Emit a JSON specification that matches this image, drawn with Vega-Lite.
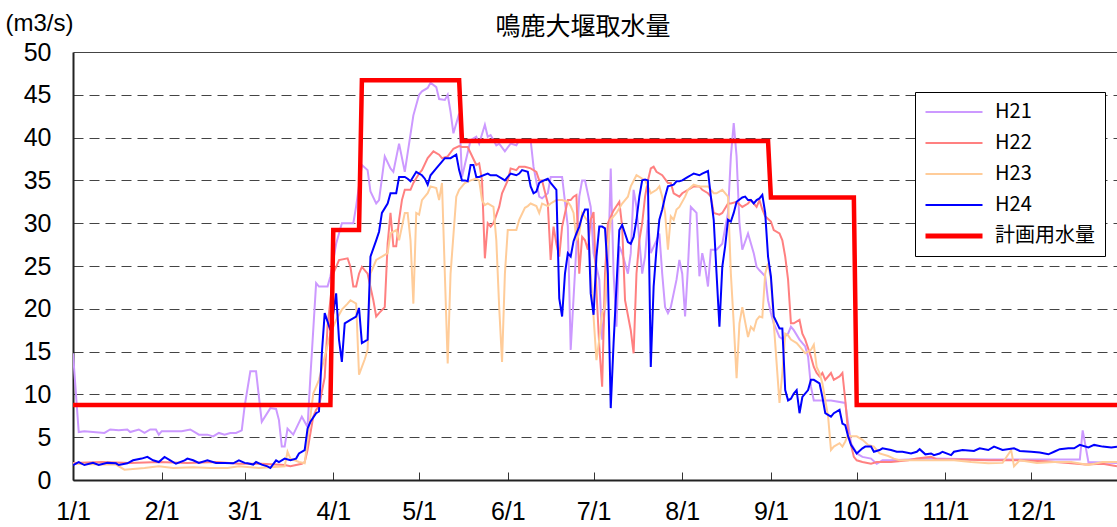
{
 "$schema": "https://vega.github.io/schema/vega-lite/v6.json",
 "width": 1044, "height": 428,
 "autosize": "none",
 "padding": {"left": 73, "top": 52, "right": 0, "bottom": 47},
 "background": "white",
 "title": {"text": "鳴鹿大堰取水量", "font": "Noto Sans CJK JP", "fontSize": 25, "fontWeight": "normal", "color": "black", "anchor": "middle", "offset": -29, "dx": -12},
 "config": {"view": {"stroke": null}},
 "data": {"values": [
{"series":"H21","day":0,"value":14.8},{"series":"H21","day":2,"value":5.6},{"series":"H21","day":4,"value":5.7},{"series":"H21","day":11,"value":5.5},{"series":"H21","day":13,"value":5.9},{"series":"H21","day":16,"value":5.8},{"series":"H21","day":19,"value":5.9},{"series":"H21","day":20,"value":5.6},{"series":"H21","day":23,"value":5.9},{"series":"H21","day":25,"value":5.5},{"series":"H21","day":27,"value":5.9},{"series":"H21","day":29,"value":5.9},{"series":"H21","day":30,"value":5.3},{"series":"H21","day":31,"value":5.7},{"series":"H21","day":38,"value":5.7},{"series":"H21","day":41,"value":5.9},{"series":"H21","day":43,"value":5.5},{"series":"H21","day":44,"value":5.3},{"series":"H21","day":47,"value":5.3},{"series":"H21","day":49,"value":5.1},{"series":"H21","day":51,"value":5.5},{"series":"H21","day":53,"value":5.3},{"series":"H21","day":55,"value":5.5},{"series":"H21","day":57,"value":5.5},{"series":"H21","day":59,"value":5.8},{"series":"H21","day":60,"value":8.6},{"series":"H21","day":62,"value":12.7},{"series":"H21","day":64,"value":12.7},{"series":"H21","day":66,"value":6.8},{"series":"H21","day":69,"value":8.4},{"series":"H21","day":71,"value":8.3},{"series":"H21","day":72,"value":7.0},{"series":"H21","day":73,"value":3.9},{"series":"H21","day":74,"value":3.9},{"series":"H21","day":75,"value":6.0},{"series":"H21","day":77,"value":5.3},{"series":"H21","day":80,"value":7.4},{"series":"H21","day":82,"value":6.2},{"series":"H21","day":83,"value":12.1},{"series":"H21","day":85,"value":23.0},{"series":"H21","day":86,"value":22.6},{"series":"H21","day":89,"value":22.6},{"series":"H21","day":90,"value":23.8},{"series":"H21","day":92,"value":27.6},{"series":"H21","day":94,"value":30.0},{"series":"H21","day":98,"value":30.0},{"series":"H21","day":99,"value":32.0},{"series":"H21","day":101,"value":36.8},{"series":"H21","day":103,"value":36.2},{"series":"H21","day":104,"value":33.7},{"series":"H21","day":106,"value":32.3},{"series":"H21","day":107,"value":32.7},{"series":"H21","day":109,"value":37.8},{"series":"H21","day":111,"value":36.4},{"series":"H21","day":112,"value":36.0},{"series":"H21","day":114,"value":39.3},{"series":"H21","day":116,"value":36.0},{"series":"H21","day":119,"value":42.6},{"series":"H21","day":121,"value":45.0},{"series":"H21","day":122,"value":45.4},{"series":"H21","day":124,"value":45.8},{"series":"H21","day":125,"value":46.4},{"series":"H21","day":127,"value":45.9},{"series":"H21","day":128,"value":44.5},{"series":"H21","day":130,"value":44.4},{"series":"H21","day":131,"value":45.0},{"series":"H21","day":132,"value":43.0},{"series":"H21","day":133,"value":40.5},{"series":"H21","day":135,"value":42.8},{"series":"H21","day":136,"value":35.4},{"series":"H21","day":139,"value":39.7},{"series":"H21","day":141,"value":40.1},{"series":"H21","day":142,"value":39.3},{"series":"H21","day":144,"value":41.5},{"series":"H21","day":145,"value":40.1},{"series":"H21","day":146,"value":40.3},{"series":"H21","day":148,"value":39.1},{"series":"H21","day":149,"value":39.3},{"series":"H21","day":151,"value":38.4},{"series":"H21","day":153,"value":39.3},{"series":"H21","day":155,"value":39.1},{"series":"H21","day":156,"value":39.7},{"series":"H21","day":160,"value":39.7},{"series":"H21","day":161,"value":36.6},{"series":"H21","day":163,"value":33.1},{"series":"H21","day":164,"value":32.9},{"series":"H21","day":166,"value":33.5},{"series":"H21","day":167,"value":35.4},{"series":"H21","day":169,"value":35.4},{"series":"H21","day":171,"value":35.4},{"series":"H21","day":173,"value":29.6},{"series":"H21","day":174,"value":15.2},{"series":"H21","day":176,"value":27.3},{"series":"H21","day":177,"value":33.1},{"series":"H21","day":178,"value":35.0},{"series":"H21","day":179,"value":35.0},{"series":"H21","day":181,"value":31.9},{"series":"H21","day":182,"value":26.5},{"series":"H21","day":184,"value":23.4},{"series":"H21","day":185,"value":16.4},{"series":"H21","day":187,"value":24.1},{"series":"H21","day":188,"value":36.4},{"series":"H21","day":189,"value":24.1},{"series":"H21","day":190,"value":17.9},{"series":"H21","day":191,"value":27.3},{"series":"H21","day":192,"value":26.5},{"series":"H21","day":194,"value":24.1},{"series":"H21","day":195,"value":26.5},{"series":"H21","day":196,"value":33.9},{"series":"H21","day":197,"value":31.9},{"series":"H21","day":199,"value":24.1},{"series":"H21","day":200,"value":26.1},{"series":"H21","day":201,"value":30.4},{"series":"H21","day":202,"value":26.5},{"series":"H21","day":204,"value":28.0},{"series":"H21","day":205,"value":28.8},{"series":"H21","day":206,"value":24.1},{"series":"H21","day":207,"value":20.2},{"series":"H21","day":208,"value":19.5},{"series":"H21","day":209,"value":20.2},{"series":"H21","day":211,"value":23.4},{"series":"H21","day":212,"value":25.7},{"series":"H21","day":213,"value":24.1},{"series":"H21","day":214,"value":19.1},{"series":"H21","day":215,"value":24.9},{"series":"H21","day":216,"value":31.9},{"series":"H21","day":218,"value":31.2},{"series":"H21","day":219,"value":23.8},{"series":"H21","day":220,"value":26.5},{"series":"H21","day":221,"value":24.9},{"series":"H21","day":222,"value":22.6},{"series":"H21","day":223,"value":26.9},{"series":"H21","day":225,"value":26.9},{"series":"H21","day":227,"value":27.6},{"series":"H21","day":229,"value":31.2},{"series":"H21","day":230,"value":37.8},{"series":"H21","day":231,"value":41.7},{"series":"H21","day":232,"value":37.8},{"series":"H21","day":233,"value":30.0},{"series":"H21","day":234,"value":26.9},{"series":"H21","day":236,"value":28.8},{"series":"H21","day":238,"value":26.5},{"series":"H21","day":239,"value":24.9},{"series":"H21","day":240,"value":24.5},{"series":"H21","day":242,"value":23.8},{"series":"H21","day":243,"value":21.0},{"series":"H21","day":244,"value":19.5},{"series":"H21","day":245,"value":18.3},{"series":"H21","day":247,"value":16.7},{"series":"H21","day":248,"value":16.5},{"series":"H21","day":250,"value":17.1},{"series":"H21","day":251,"value":17.9},{"series":"H21","day":252,"value":17.5},{"series":"H21","day":254,"value":16.4},{"series":"H21","day":256,"value":15.6},{"series":"H21","day":257,"value":14.4},{"series":"H21","day":258,"value":10.9},{"series":"H21","day":259,"value":9.3},{"series":"H21","day":265,"value":9.3},{"series":"H21","day":270,"value":9.0},{"series":"H21","day":271,"value":6.6},{"series":"H21","day":272,"value":4.3},{"series":"H21","day":274,"value":3.1},{"series":"H21","day":276,"value":2.7},{"series":"H21","day":279,"value":2.5},{"series":"H21","day":281,"value":1.9},{"series":"H21","day":283,"value":2.3},{"series":"H21","day":286,"value":2.3},{"series":"H21","day":300,"value":2.5},{"series":"H21","day":320,"value":2.4},{"series":"H21","day":340,"value":2.4},{"series":"H21","day":352,"value":2.4},{"series":"H21","day":353,"value":5.8},{"series":"H21","day":355,"value":2.1},{"series":"H21","day":365,"value":2.0},
{"series":"H22","day":0,"value":2.0},{"series":"H22","day":10,"value":2.1},{"series":"H22","day":20,"value":2.0},{"series":"H22","day":30,"value":2.1},{"series":"H22","day":40,"value":2.0},{"series":"H22","day":50,"value":2.1},{"series":"H22","day":58,"value":1.9},{"series":"H22","day":66,"value":1.9},{"series":"H22","day":74,"value":1.75},{"series":"H22","day":76,"value":1.6},{"series":"H22","day":80,"value":1.9},{"series":"H22","day":81,"value":2.1},{"series":"H22","day":82,"value":3.5},{"series":"H22","day":84,"value":7.4},{"series":"H22","day":85,"value":8.2},{"series":"H22","day":86,"value":8.6},{"series":"H22","day":88,"value":12.0},{"series":"H22","day":89,"value":18.0},{"series":"H22","day":91,"value":24.1},{"series":"H22","day":93,"value":25.7},{"series":"H22","day":96,"value":25.9},{"series":"H22","day":97,"value":24.9},{"series":"H22","day":98,"value":22.6},{"series":"H22","day":99,"value":22.6},{"series":"H22","day":100,"value":24.1},{"series":"H22","day":101,"value":24.9},{"series":"H22","day":103,"value":24.1},{"series":"H22","day":105,"value":21.0},{"series":"H22","day":106,"value":19.1},{"series":"H22","day":107,"value":19.5},{"series":"H22","day":109,"value":20.2},{"series":"H22","day":110,"value":27.6},{"series":"H22","day":111,"value":31.2},{"series":"H22","day":112,"value":27.3},{"series":"H22","day":113,"value":27.3},{"series":"H22","day":114,"value":30.4},{"series":"H22","day":115,"value":32.7},{"series":"H22","day":116,"value":33.9},{"series":"H22","day":118,"value":33.9},{"series":"H22","day":119,"value":34.7},{"series":"H22","day":121,"value":35.8},{"series":"H22","day":122,"value":36.2},{"series":"H22","day":124,"value":37.6},{"series":"H22","day":126,"value":38.4},{"series":"H22","day":128,"value":38.0},{"series":"H22","day":129,"value":37.6},{"series":"H22","day":131,"value":37.8},{"series":"H22","day":133,"value":38.7},{"series":"H22","day":135,"value":39.0},{"series":"H22","day":136,"value":38.9},{"series":"H22","day":138,"value":38.9},{"series":"H22","day":139,"value":38.2},{"series":"H22","day":141,"value":36.8},{"series":"H22","day":142,"value":37.0},{"series":"H22","day":143,"value":35.0},{"series":"H22","day":144,"value":25.9},{"series":"H22","day":145,"value":30.0},{"series":"H22","day":146,"value":29.6},{"series":"H22","day":147,"value":30.0},{"series":"H22","day":149,"value":31.9},{"series":"H22","day":150,"value":33.5},{"series":"H22","day":152,"value":35.0},{"series":"H22","day":153,"value":36.4},{"series":"H22","day":155,"value":36.2},{"series":"H22","day":156,"value":36.6},{"series":"H22","day":158,"value":36.6},{"series":"H22","day":160,"value":36.4},{"series":"H22","day":162,"value":36.0},{"series":"H22","day":163,"value":35.0},{"series":"H22","day":164,"value":35.0},{"series":"H22","day":166,"value":32.3},{"series":"H22","day":167,"value":25.7},{"series":"H22","day":168,"value":29.6},{"series":"H22","day":169,"value":27.6},{"series":"H22","day":170,"value":26.1},{"series":"H22","day":171,"value":29.6},{"series":"H22","day":173,"value":32.7},{"series":"H22","day":174,"value":32.7},{"series":"H22","day":175,"value":33.1},{"series":"H22","day":176,"value":33.3},{"series":"H22","day":177,"value":24.1},{"series":"H22","day":178,"value":28.4},{"series":"H22","day":179,"value":28.0},{"series":"H22","day":180,"value":26.9},{"series":"H22","day":181,"value":30.4},{"series":"H22","day":182,"value":31.3},{"series":"H22","day":183,"value":22.2},{"series":"H22","day":184,"value":15.6},{"series":"H22","day":185,"value":10.9},{"series":"H22","day":186,"value":24.1},{"series":"H22","day":187,"value":30.0},{"series":"H22","day":189,"value":31.5},{"series":"H22","day":191,"value":32.5},{"series":"H22","day":192,"value":29.6},{"series":"H22","day":193,"value":21.0},{"series":"H22","day":195,"value":17.5},{"series":"H22","day":196,"value":14.8},{"series":"H22","day":197,"value":24.1},{"series":"H22","day":198,"value":28.0},{"series":"H22","day":199,"value":30.0},{"series":"H22","day":200,"value":33.1},{"series":"H22","day":201,"value":35.0},{"series":"H22","day":202,"value":36.4},{"series":"H22","day":203,"value":36.6},{"series":"H22","day":204,"value":36.0},{"series":"H22","day":206,"value":35.6},{"series":"H22","day":208,"value":34.7},{"series":"H22","day":209,"value":34.7},{"series":"H22","day":210,"value":33.5},{"series":"H22","day":212,"value":33.1},{"series":"H22","day":213,"value":33.5},{"series":"H22","day":215,"value":33.9},{"series":"H22","day":217,"value":34.3},{"series":"H22","day":219,"value":34.3},{"series":"H22","day":220,"value":33.9},{"series":"H22","day":222,"value":33.5},{"series":"H22","day":223,"value":33.1},{"series":"H22","day":224,"value":31.2},{"series":"H22","day":226,"value":31.0},{"series":"H22","day":227,"value":31.2},{"series":"H22","day":229,"value":32.3},{"series":"H22","day":230,"value":32.3},{"series":"H22","day":232,"value":32.5},{"series":"H22","day":234,"value":31.9},{"series":"H22","day":236,"value":32.3},{"series":"H22","day":237,"value":32.7},{"series":"H22","day":239,"value":31.9},{"series":"H22","day":240,"value":32.7},{"series":"H22","day":241,"value":31.6},{"series":"H22","day":242,"value":30.8},{"series":"H22","day":244,"value":30.2},{"series":"H22","day":245,"value":29.2},{"series":"H22","day":247,"value":28.8},{"series":"H22","day":248,"value":28.0},{"series":"H22","day":249,"value":26.1},{"series":"H22","day":250,"value":23.4},{"series":"H22","day":251,"value":18.3},{"series":"H22","day":252,"value":18.3},{"series":"H22","day":254,"value":18.7},{"series":"H22","day":255,"value":17.1},{"series":"H22","day":256,"value":16.4},{"series":"H22","day":258,"value":14.4},{"series":"H22","day":259,"value":13.2},{"series":"H22","day":260,"value":12.5},{"series":"H22","day":261,"value":12.1},{"series":"H22","day":262,"value":12.5},{"series":"H22","day":263,"value":11.7},{"series":"H22","day":265,"value":12.5},{"series":"H22","day":266,"value":11.7},{"series":"H22","day":268,"value":12.1},{"series":"H22","day":269,"value":12.5},{"series":"H22","day":270,"value":9.3},{"series":"H22","day":271,"value":5.5},{"series":"H22","day":273,"value":2.7},{"series":"H22","day":274,"value":2.3},{"series":"H22","day":276,"value":2.1},{"series":"H22","day":279,"value":1.9},{"series":"H22","day":281,"value":2.1},{"series":"H22","day":286,"value":2.1},{"series":"H22","day":292,"value":2.3},{"series":"H22","day":295,"value":2.5},{"series":"H22","day":300,"value":2.7},{"series":"H22","day":302,"value":2.4},{"series":"H22","day":310,"value":2.4},{"series":"H22","day":320,"value":2.3},{"series":"H22","day":330,"value":2.3},{"series":"H22","day":340,"value":2.2},{"series":"H22","day":348,"value":2.0},{"series":"H22","day":354,"value":1.8},{"series":"H22","day":360,"value":1.9},{"series":"H22","day":365,"value":1.6},
{"series":"H23","day":0,"value":1.9},{"series":"H23","day":10,"value":1.8},{"series":"H23","day":15,"value":1.8},{"series":"H23","day":18,"value":1.2},{"series":"H23","day":25,"value":1.4},{"series":"H23","day":30,"value":1.6},{"series":"H23","day":35,"value":1.4},{"series":"H23","day":42,"value":1.5},{"series":"H23","day":48,"value":1.4},{"series":"H23","day":54,"value":1.4},{"series":"H23","day":58,"value":1.6},{"series":"H23","day":65,"value":1.4},{"series":"H23","day":74,"value":1.6},{"series":"H23","day":75,"value":3.3},{"series":"H23","day":76,"value":2.5},{"series":"H23","day":79,"value":2.1},{"series":"H23","day":81,"value":1.95},{"series":"H23","day":82,"value":4.7},{"series":"H23","day":84,"value":10.1},{"series":"H23","day":86,"value":11.7},{"series":"H23","day":88,"value":14.4},{"series":"H23","day":90,"value":17.1},{"series":"H23","day":92,"value":18.7},{"series":"H23","day":94,"value":19.9},{"series":"H23","day":96,"value":20.6},{"series":"H23","day":97,"value":21.0},{"series":"H23","day":99,"value":20.6},{"series":"H23","day":100,"value":12.3},{"series":"H23","day":102,"value":14.1},{"series":"H23","day":103,"value":15.2},{"series":"H23","day":104,"value":24.1},{"series":"H23","day":106,"value":25.7},{"series":"H23","day":108,"value":26.1},{"series":"H23","day":110,"value":26.5},{"series":"H23","day":111,"value":28.8},{"series":"H23","day":113,"value":29.2},{"series":"H23","day":114,"value":28.0},{"series":"H23","day":116,"value":31.2},{"series":"H23","day":117,"value":31.2},{"series":"H23","day":118,"value":28.0},{"series":"H23","day":119,"value":20.6},{"series":"H23","day":120,"value":31.2},{"series":"H23","day":121,"value":31.0},{"series":"H23","day":122,"value":32.7},{"series":"H23","day":124,"value":33.5},{"series":"H23","day":125,"value":34.3},{"series":"H23","day":127,"value":34.1},{"series":"H23","day":128,"value":32.7},{"series":"H23","day":129,"value":34.7},{"series":"H23","day":130,"value":24.1},{"series":"H23","day":131,"value":13.6},{"series":"H23","day":132,"value":24.1},{"series":"H23","day":134,"value":33.1},{"series":"H23","day":135,"value":33.9},{"series":"H23","day":137,"value":34.7},{"series":"H23","day":139,"value":35.0},{"series":"H23","day":141,"value":35.2},{"series":"H23","day":142,"value":35.0},{"series":"H23","day":143,"value":32.7},{"series":"H23","day":144,"value":32.1},{"series":"H23","day":145,"value":32.3},{"series":"H23","day":147,"value":31.9},{"series":"H23","day":148,"value":28.0},{"series":"H23","day":149,"value":20.2},{"series":"H23","day":150,"value":13.8},{"series":"H23","day":151,"value":24.1},{"series":"H23","day":152,"value":29.2},{"series":"H23","day":155,"value":29.2},{"series":"H23","day":156,"value":30.4},{"series":"H23","day":158,"value":31.8},{"series":"H23","day":159,"value":32.0},{"series":"H23","day":160,"value":32.3},{"series":"H23","day":162,"value":32.0},{"series":"H23","day":163,"value":31.2},{"series":"H23","day":164,"value":32.3},{"series":"H23","day":166,"value":32.0},{"series":"H23","day":167,"value":32.3},{"series":"H23","day":169,"value":32.7},{"series":"H23","day":171,"value":32.7},{"series":"H23","day":173,"value":32.5},{"series":"H23","day":174,"value":32.0},{"series":"H23","day":175,"value":31.2},{"series":"H23","day":176,"value":28.0},{"series":"H23","day":177,"value":28.8},{"series":"H23","day":178,"value":31.2},{"series":"H23","day":180,"value":30.2},{"series":"H23","day":181,"value":24.1},{"series":"H23","day":183,"value":14.0},{"series":"H23","day":184,"value":16.4},{"series":"H23","day":185,"value":19.5},{"series":"H23","day":186,"value":20.2},{"series":"H23","day":187,"value":27.3},{"series":"H23","day":188,"value":30.4},{"series":"H23","day":190,"value":31.2},{"series":"H23","day":192,"value":32.3},{"series":"H23","day":194,"value":33.1},{"series":"H23","day":195,"value":34.3},{"series":"H23","day":197,"value":35.6},{"series":"H23","day":198,"value":35.4},{"series":"H23","day":200,"value":35.0},{"series":"H23","day":201,"value":34.3},{"series":"H23","day":202,"value":33.5},{"series":"H23","day":204,"value":33.9},{"series":"H23","day":205,"value":34.3},{"series":"H23","day":206,"value":33.1},{"series":"H23","day":207,"value":31.2},{"series":"H23","day":208,"value":26.9},{"series":"H23","day":209,"value":30.8},{"series":"H23","day":210,"value":30.4},{"series":"H23","day":211,"value":31.6},{"series":"H23","day":212,"value":31.9},{"series":"H23","day":214,"value":33.1},{"series":"H23","day":215,"value":33.9},{"series":"H23","day":217,"value":34.5},{"series":"H23","day":219,"value":34.3},{"series":"H23","day":220,"value":34.3},{"series":"H23","day":222,"value":34.3},{"series":"H23","day":224,"value":33.5},{"series":"H23","day":225,"value":33.5},{"series":"H23","day":227,"value":33.9},{"series":"H23","day":229,"value":33.1},{"series":"H23","day":230,"value":24.1},{"series":"H23","day":231,"value":18.3},{"series":"H23","day":232,"value":11.9},{"series":"H23","day":233,"value":18.3},{"series":"H23","day":234,"value":20.2},{"series":"H23","day":236,"value":16.7},{"series":"H23","day":237,"value":17.9},{"series":"H23","day":238,"value":17.5},{"series":"H23","day":239,"value":18.7},{"series":"H23","day":240,"value":19.1},{"series":"H23","day":241,"value":19.0},{"series":"H23","day":242,"value":24.1},{"series":"H23","day":243,"value":25.3},{"series":"H23","day":244,"value":23.4},{"series":"H23","day":245,"value":18.3},{"series":"H23","day":247,"value":9.0},{"series":"H23","day":248,"value":12.5},{"series":"H23","day":249,"value":17.1},{"series":"H23","day":250,"value":16.9},{"series":"H23","day":251,"value":16.4},{"series":"H23","day":253,"value":16.0},{"series":"H23","day":254,"value":15.6},{"series":"H23","day":256,"value":14.8},{"series":"H23","day":258,"value":15.2},{"series":"H23","day":259,"value":15.8},{"series":"H23","day":260,"value":13.2},{"series":"H23","day":261,"value":12.5},{"series":"H23","day":262,"value":11.3},{"series":"H23","day":264,"value":7.4},{"series":"H23","day":265,"value":3.5},{"series":"H23","day":266,"value":3.9},{"series":"H23","day":268,"value":4.3},{"series":"H23","day":269,"value":3.9},{"series":"H23","day":270,"value":4.5},{"series":"H23","day":271,"value":5.3},{"series":"H23","day":272,"value":5.1},{"series":"H23","day":274,"value":5.1},{"series":"H23","day":276,"value":4.7},{"series":"H23","day":278,"value":4.1},{"series":"H23","day":280,"value":3.9},{"series":"H23","day":282,"value":3.1},{"series":"H23","day":285,"value":2.8},{"series":"H23","day":287,"value":2.5},{"series":"H23","day":289,"value":2.3},{"series":"H23","day":295,"value":2.3},{"series":"H23","day":300,"value":2.3},{"series":"H23","day":302,"value":2.3},{"series":"H23","day":308,"value":2.3},{"series":"H23","day":314,"value":2.1},{"series":"H23","day":320,"value":1.95},{"series":"H23","day":325,"value":2.0},{"series":"H23","day":328,"value":3.5},{"series":"H23","day":329,"value":1.6},{"series":"H23","day":331,"value":2.3},{"series":"H23","day":337,"value":2.0},{"series":"H23","day":343,"value":2.1},{"series":"H23","day":349,"value":2.1},{"series":"H23","day":355,"value":1.75},{"series":"H23","day":360,"value":2.1},{"series":"H23","day":365,"value":2.1},
{"series":"H24","day":0,"value":1.75},{"series":"H24","day":2,"value":2.1},{"series":"H24","day":4,"value":1.75},{"series":"H24","day":7,"value":2.0},{"series":"H24","day":9,"value":1.75},{"series":"H24","day":12,"value":2.0},{"series":"H24","day":15,"value":1.95},{"series":"H24","day":16,"value":1.75},{"series":"H24","day":19,"value":1.95},{"series":"H24","day":21,"value":2.3},{"series":"H24","day":24,"value":2.5},{"series":"H24","day":26,"value":2.7},{"series":"H24","day":28,"value":2.3},{"series":"H24","day":30,"value":2.1},{"series":"H24","day":32,"value":2.7},{"series":"H24","day":34,"value":2.3},{"series":"H24","day":36,"value":1.9},{"series":"H24","day":39,"value":2.3},{"series":"H24","day":40,"value":2.5},{"series":"H24","day":42,"value":2.3},{"series":"H24","day":44,"value":2.0},{"series":"H24","day":47,"value":2.3},{"series":"H24","day":50,"value":2.0},{"series":"H24","day":53,"value":2.0},{"series":"H24","day":56,"value":1.95},{"series":"H24","day":58,"value":2.3},{"series":"H24","day":60,"value":2.0},{"series":"H24","day":61,"value":1.95},{"series":"H24","day":63,"value":1.8},{"series":"H24","day":64,"value":2.1},{"series":"H24","day":66,"value":1.8},{"series":"H24","day":68,"value":1.6},{"series":"H24","day":69,"value":1.4},{"series":"H24","day":71,"value":2.3},{"series":"H24","day":72,"value":2.1},{"series":"H24","day":74,"value":2.5},{"series":"H24","day":76,"value":2.3},{"series":"H24","day":78,"value":2.5},{"series":"H24","day":79,"value":3.1},{"series":"H24","day":81,"value":3.5},{"series":"H24","day":82,"value":6.0},{"series":"H24","day":83,"value":6.8},{"series":"H24","day":85,"value":7.8},{"series":"H24","day":86,"value":8.0},{"series":"H24","day":87,"value":14.8},{"series":"H24","day":88,"value":19.5},{"series":"H24","day":90,"value":17.5},{"series":"H24","day":91,"value":19.5},{"series":"H24","day":92,"value":21.8},{"series":"H24","day":93,"value":16.4},{"series":"H24","day":94,"value":13.8},{"series":"H24","day":95,"value":18.3},{"series":"H24","day":97,"value":18.7},{"series":"H24","day":99,"value":19.1},{"series":"H24","day":100,"value":20.1},{"series":"H24","day":101,"value":16.0},{"series":"H24","day":102,"value":16.2},{"series":"H24","day":103,"value":16.4},{"series":"H24","day":104,"value":26.1},{"series":"H24","day":106,"value":28.0},{"series":"H24","day":107,"value":29.0},{"series":"H24","day":108,"value":31.2},{"series":"H24","day":110,"value":32.3},{"series":"H24","day":111,"value":33.5},{"series":"H24","day":113,"value":33.5},{"series":"H24","day":114,"value":35.4},{"series":"H24","day":116,"value":35.4},{"series":"H24","day":117,"value":35.2},{"series":"H24","day":118,"value":34.9},{"series":"H24","day":120,"value":36.0},{"series":"H24","day":121,"value":35.8},{"series":"H24","day":122,"value":35.6},{"series":"H24","day":123,"value":35.2},{"series":"H24","day":124,"value":34.5},{"series":"H24","day":125,"value":35.6},{"series":"H24","day":127,"value":36.4},{"series":"H24","day":129,"value":37.2},{"series":"H24","day":130,"value":37.6},{"series":"H24","day":132,"value":37.6},{"series":"H24","day":133,"value":37.8},{"series":"H24","day":134,"value":38.0},{"series":"H24","day":135,"value":36.2},{"series":"H24","day":136,"value":35.0},{"series":"H24","day":137,"value":35.0},{"series":"H24","day":138,"value":34.9},{"series":"H24","day":139,"value":36.8},{"series":"H24","day":140,"value":36.8},{"series":"H24","day":141,"value":35.4},{"series":"H24","day":142,"value":35.4},{"series":"H24","day":145,"value":35.8},{"series":"H24","day":146,"value":35.6},{"series":"H24","day":148,"value":35.6},{"series":"H24","day":150,"value":35.2},{"series":"H24","day":151,"value":35.0},{"series":"H24","day":152,"value":35.4},{"series":"H24","day":153,"value":35.8},{"series":"H24","day":155,"value":35.6},{"series":"H24","day":156,"value":35.8},{"series":"H24","day":157,"value":36.2},{"series":"H24","day":159,"value":36.0},{"series":"H24","day":160,"value":34.3},{"series":"H24","day":161,"value":33.5},{"series":"H24","day":162,"value":33.7},{"series":"H24","day":163,"value":34.7},{"series":"H24","day":164,"value":34.9},{"series":"H24","day":166,"value":35.2},{"series":"H24","day":167,"value":34.7},{"series":"H24","day":169,"value":33.9},{"series":"H24","day":170,"value":21.2},{"series":"H24","day":171,"value":19.1},{"series":"H24","day":172,"value":24.1},{"series":"H24","day":173,"value":26.5},{"series":"H24","day":174,"value":26.1},{"series":"H24","day":175,"value":27.9},{"series":"H24","day":176,"value":28.8},{"series":"H24","day":177,"value":29.6},{"series":"H24","day":178,"value":30.8},{"series":"H24","day":179,"value":31.6},{"series":"H24","day":180,"value":31.6},{"series":"H24","day":181,"value":21.8},{"series":"H24","day":182,"value":19.3},{"series":"H24","day":183,"value":26.1},{"series":"H24","day":184,"value":29.6},{"series":"H24","day":185,"value":29.6},{"series":"H24","day":186,"value":29.4},{"series":"H24","day":187,"value":24.1},{"series":"H24","day":188,"value":8.4},{"series":"H24","day":189,"value":16.0},{"series":"H24","day":190,"value":22.6},{"series":"H24","day":191,"value":29.2},{"series":"H24","day":192,"value":29.8},{"series":"H24","day":193,"value":28.8},{"series":"H24","day":194,"value":27.8},{"series":"H24","day":195,"value":27.6},{"series":"H24","day":196,"value":28.4},{"series":"H24","day":197,"value":30.4},{"series":"H24","day":198,"value":33.1},{"series":"H24","day":199,"value":35.0},{"series":"H24","day":200,"value":35.1},{"series":"H24","day":201,"value":35.0},{"series":"H24","day":202,"value":13.2},{"series":"H24","day":203,"value":22.6},{"series":"H24","day":204,"value":27.0},{"series":"H24","day":205,"value":30.4},{"series":"H24","day":206,"value":31.6},{"series":"H24","day":207,"value":33.1},{"series":"H24","day":208,"value":34.3},{"series":"H24","day":210,"value":34.5},{"series":"H24","day":211,"value":34.9},{"series":"H24","day":212,"value":34.9},{"series":"H24","day":213,"value":35.0},{"series":"H24","day":215,"value":35.4},{"series":"H24","day":216,"value":35.6},{"series":"H24","day":217,"value":35.8},{"series":"H24","day":219,"value":35.6},{"series":"H24","day":220,"value":35.8},{"series":"H24","day":222,"value":36.1},{"series":"H24","day":223,"value":33.1},{"series":"H24","day":224,"value":30.4},{"series":"H24","day":225,"value":24.1},{"series":"H24","day":226,"value":17.9},{"series":"H24","day":227,"value":24.9},{"series":"H24","day":228,"value":27.3},{"series":"H24","day":229,"value":30.4},{"series":"H24","day":230,"value":30.2},{"series":"H24","day":231,"value":31.2},{"series":"H24","day":232,"value":32.5},{"series":"H24","day":234,"value":33.0},{"series":"H24","day":235,"value":33.1},{"series":"H24","day":236,"value":32.7},{"series":"H24","day":237,"value":32.7},{"series":"H24","day":238,"value":32.3},{"series":"H24","day":239,"value":32.7},{"series":"H24","day":240,"value":32.9},{"series":"H24","day":241,"value":33.3},{"series":"H24","day":242,"value":31.2},{"series":"H24","day":243,"value":26.1},{"series":"H24","day":244,"value":23.8},{"series":"H24","day":245,"value":19.1},{"series":"H24","day":247,"value":17.7},{"series":"H24","day":248,"value":17.7},{"series":"H24","day":249,"value":10.5},{"series":"H24","day":250,"value":9.3},{"series":"H24","day":251,"value":9.5},{"series":"H24","day":252,"value":10.1},{"series":"H24","day":253,"value":10.5},{"series":"H24","day":254,"value":7.8},{"series":"H24","day":255,"value":9.7},{"series":"H24","day":257,"value":10.5},{"series":"H24","day":258,"value":11.7},{"series":"H24","day":259,"value":11.7},{"series":"H24","day":261,"value":11.3},{"series":"H24","day":262,"value":9.7},{"series":"H24","day":263,"value":7.8},{"series":"H24","day":265,"value":7.4},{"series":"H24","day":266,"value":7.8},{"series":"H24","day":268,"value":8.2},{"series":"H24","day":269,"value":6.6},{"series":"H24","day":270,"value":6.4},{"series":"H24","day":271,"value":5.1},{"series":"H24","day":272,"value":4.1},{"series":"H24","day":274,"value":3.1},{"series":"H24","day":276,"value":3.7},{"series":"H24","day":277,"value":3.9},{"series":"H24","day":279,"value":3.9},{"series":"H24","day":280,"value":3.3},{"series":"H24","day":282,"value":3.5},{"series":"H24","day":283,"value":3.7},{"series":"H24","day":286,"value":3.5},{"series":"H24","day":288,"value":3.3},{"series":"H24","day":290,"value":3.3},{"series":"H24","day":293,"value":3.1},{"series":"H24","day":295,"value":3.3},{"series":"H24","day":296,"value":3.6},{"series":"H24","day":298,"value":3.0},{"series":"H24","day":300,"value":3.1},{"series":"H24","day":301,"value":2.9},{"series":"H24","day":303,"value":3.1},{"series":"H24","day":304,"value":3.3},{"series":"H24","day":307,"value":2.9},{"series":"H24","day":308,"value":3.3},{"series":"H24","day":311,"value":3.5},{"series":"H24","day":315,"value":3.4},{"series":"H24","day":317,"value":3.7},{"series":"H24","day":320,"value":3.5},{"series":"H24","day":322,"value":3.9},{"series":"H24","day":325,"value":3.5},{"series":"H24","day":329,"value":3.7},{"series":"H24","day":331,"value":3.4},{"series":"H24","day":335,"value":3.3},{"series":"H24","day":338,"value":3.2},{"series":"H24","day":341,"value":3.0},{"series":"H24","day":343,"value":3.3},{"series":"H24","day":345,"value":3.6},{"series":"H24","day":348,"value":3.7},{"series":"H24","day":350,"value":3.7},{"series":"H24","day":352,"value":4.1},{"series":"H24","day":355,"value":3.8},{"series":"H24","day":357,"value":4.1},{"series":"H24","day":360,"value":3.9},{"series":"H24","day":363,"value":3.8},{"series":"H24","day":365,"value":3.9},
{"series":"計画用水量","day":0,"value":8.75},{"series":"計画用水量","day":90,"value":8.75},{"series":"計画用水量","day":91,"value":29.2},{"series":"計画用水量","day":100,"value":29.2},{"series":"計画用水量","day":101,"value":46.7},{"series":"計画用水量","day":135,"value":46.7},{"series":"計画用水量","day":136,"value":39.6},{"series":"計画用水量","day":243,"value":39.6},{"series":"計画用水量","day":244,"value":33.0},{"series":"計画用水量","day":273,"value":33.0},{"series":"計画用水量","day":274,"value":8.75},{"series":"計画用水量","day":365,"value":8.75}
 ]},
 "mark": {"type": "line", "clip": true},
 "encoding": {
  "x": {"field": "day", "type": "quantitative",
   "scale": {"domain": [0, 365], "nice": false, "zero": false},
   "axis": {"title": null, "grid": false, "values": [0,31,60,91,121,152,182,213,244,274,305,335],
    "labelExpr": "timeFormat(datetime(2012, 0, 1 + datum.value), '%-m/%-d')",
    "labelFont": "Liberation Sans", "labelFontSize": 25, "labelColor": "black", "labelPadding": 27,
    "ticks": true, "tickSize": -8, "tickColor": "#333", "tickWidth": 1,
    "domainColor": "#222", "domainWidth": 2, "labelFlush": false, "labelOverlap": false}},
  "y": {"field": "value", "type": "quantitative",
   "scale": {"domain": [0, 50], "nice": false},
   "axis": {"title": "(m3/s)", "titleAngle": 0, "titleAlign": "left", "titleBaseline": "middle", "titleX": -68, "titleY": -29,
    "titleFont": "Liberation Sans", "titleFontSize": 24, "titleFontWeight": "normal", "titleColor": "black",
    "values": [0,5,10,15,20,25,30,35,40,45,50],
    "grid": true, "gridDash": {"condition": {"test": "datum.value === 50", "value": []}, "value": [10, 6]}, "gridColor": "#444", "gridWidth": 1,
    "ticks": false, "labelFont": "Liberation Sans", "labelFontSize": 25, "labelColor": "black", "labelPadding": 22,
    "domainColor": "#222", "domainWidth": 2}},
  "color": {"field": "series", "type": "nominal",
   "scale": {"domain": ["H21", "H22", "H23", "H24", "計画用水量"], "range": ["#CC99FF", "#FF8080", "#FFCC99", "#0000FF", "#FF0000"]},
   "legend": {"title": null, "orient": "none", "legendX": 842, "legendY": 40,
    "symbolType": "stroke", "symbolSize": 3249, "symbolStrokeWidth": 2, "symbolOffset": 19,
    "labelFont": "Noto Sans CJK JP", "labelFontSize": 20, "labelColor": "black", "labelOffset": 31, "labelLimit": 200,
    "strokeColor": "black", "fillColor": "white", "padding": 10, "rowPadding": 11,
    "encode": {"symbols": {"update": {"strokeWidth": {"signal": "datum.value === '計画用水量' ? 5 : 2"}}}}}},
  "strokeWidth": {"condition": {"test": "datum.series === '計画用水量'", "value": 4.5}, "value": 2}
 }
}
